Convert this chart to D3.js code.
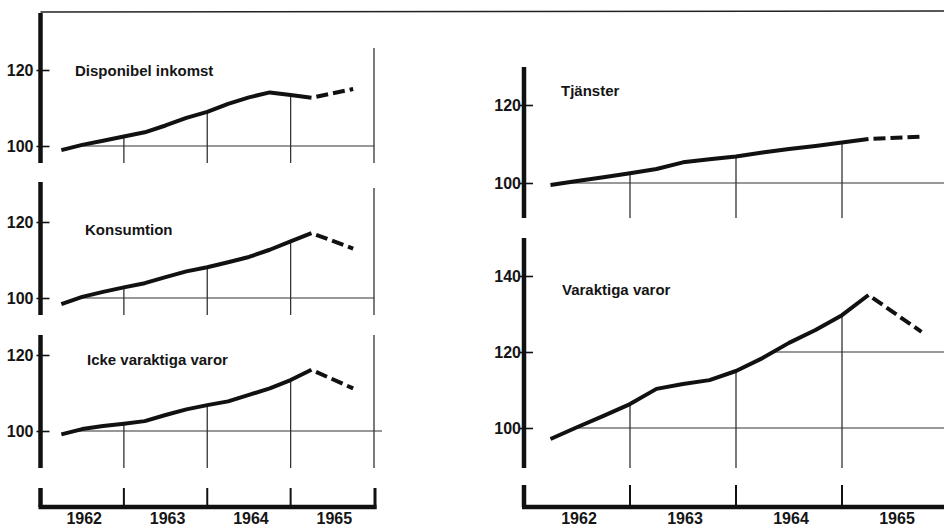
<!DOCTYPE html>
<html>
<head>
<meta charset="utf-8">
<script src="https://cdn.jsdelivr.net/npm/d3@7/dist/d3.min.js"></script>
<style>
  html, body { margin: 0; padding: 0; background: #fff; }
  svg { display: block; }
  text { font-family: "Liberation Sans", Arial, sans-serif; font-weight: bold; fill: #151515; }
</style>
</head>
<body>
<svg id="chart" width="944" height="527"></svg>
<script>
// ---------- DATA ----------
const quarters = [1962.25, 1962.5, 1962.75, 1963.0, 1963.25, 1963.5, 1963.75,
                  1964.0, 1964.25, 1964.5, 1964.75, 1965.0, 1965.25];
const forecastTime = 1965.75;
const years = [1962, 1963, 1964, 1965];
const titles = ["Disponibel inkomst", "Konsumtion", "Icke varaktiga varor", "Tjänster", "Varaktiga varor"];

const dispInkomst = [98.9, 100.3, 101.4, 102.5, 103.6, 105.4, 107.4, 109.0, 111.1, 112.8, 114.1, 113.4, 112.7];
const konsumtion  = [98.4, 100.3, 101.6, 102.8, 103.9, 105.5, 107.0, 108.1, 109.4, 110.8, 112.7, 114.9, 117.1];
const ickeVarakt  = [99.1, 100.5, 101.3, 101.9, 102.6, 104.2, 105.7, 106.8, 107.8, 109.5, 111.2, 113.4, 116.1];
const tjanster    = [99.5, 100.5, 101.5, 102.5, 103.6, 105.3, 106.1, 106.8, 107.8, 108.7, 109.5, 110.4, 111.3];
const varaktiga   = [97.1, 100.2, 103.2, 106.3, 110.3, 111.6, 112.6, 115.0, 118.4, 122.4, 125.8, 129.7, 135.0];
const forecasts   = [115.0, 113.0, 111.2, 111.9, 125.3];

const ticksSmall = [100, 120];
const ticksLarge = [100, 120, 140];
const gridSmall = [100];
const gridLarge = [100, 120];

// ---------- LAYOUT ----------
const svg = d3.select("#chart");
const xL = d3.scaleLinear().domain([1962, 1966]).range([40.5, 374]);
const xR = d3.scaleLinear().domain([1962, 1966]).range([524, 948]);

const panels = [
  { title: titles[0], values: dispInkomst, fc: forecasts[0], x: xL, y100: 146, y120: 70,  top: 13,  bottom: 163, borderTop: 48,  tx: 75,  ty: 76,  ticks: ticksSmall, grid: gridSmall, gridTo: 374, pad: 7, border: true },
  { title: titles[1], values: konsumtion,  fc: forecasts[1], x: xL, y100: 298, y120: 222, top: 182, bottom: 315, borderTop: 188, tx: 85,  ty: 235, ticks: ticksSmall, grid: gridSmall, gridTo: 374, pad: 7, border: true },
  { title: titles[2], values: ickeVarakt,  fc: forecasts[2], x: xL, y100: 431, y120: 355, top: 335, bottom: 468, borderTop: 335, tx: 87,  ty: 365, ticks: ticksSmall, grid: gridSmall, gridTo: 382, pad: 7, border: true },
  { title: titles[3], values: tjanster,    fc: forecasts[3], x: xR, y100: 183, y120: 105, top: 67,  bottom: 218, borderTop: 0,   tx: 561, ty: 96,  ticks: ticksSmall, grid: gridSmall, gridTo: 944, pad: 3, border: false },
  { title: titles[4], values: varaktiga,   fc: forecasts[4], x: xR, y100: 428, y120: 352, top: 238, bottom: 468, borderTop: 0,   tx: 562, ty: 295, ticks: ticksLarge, grid: gridLarge, gridTo: 944, pad: 3, border: false }
];

const INK = "#111";

// top frame line
svg.append("line")
  .attr("x1", xL(1962)).attr("x2", 944).attr("y1", 12).attr("y2", 11)
  .attr("stroke", "#222").attr("stroke-width", 1.5);

panels.forEach(p => {
  const x = p.x;
  const y = d3.scaleLinear().domain([100, 120]).range([p.y100, p.y120]);
  const g = svg.append("g");
  const pts = quarters.map((t, i) => [t, p.values[i]]);

  // horizontal grid levels, starting where the series reaches the level
  p.grid.forEach(level => {
    let start = quarters[0];
    for (let i = 1; i < pts.length; i++) {
      const [t0, v0] = pts[i - 1], [t1, v1] = pts[i];
      if (i === 1 && v0 >= level) { start = t0; break; }
      if (v0 < level && v1 >= level) { start = t0 + (t1 - t0) * (level - v0) / (v1 - v0); break; }
    }
    g.append("line")
      .attr("x1", x(start)).attr("x2", p.gridTo)
      .attr("y1", y(level)).attr("y2", y(level))
      .attr("stroke", "#333").attr("stroke-width", 1.2);
  });

  // drop lines at year boundaries, from bottom up to the curve
  years.slice(1).forEach(yr => {
    const i = quarters.indexOf(yr);
    g.append("line")
      .attr("x1", x(yr)).attr("x2", x(yr))
      .attr("y1", p.bottom).attr("y2", y(p.values[i]))
      .attr("stroke", "#333").attr("stroke-width", 1.3);
  });
  if (p.border) {
    g.append("line")
      .attr("x1", x(1966)).attr("x2", x(1966))
      .attr("y1", p.borderTop).attr("y2", p.bottom)
      .attr("stroke", "#333").attr("stroke-width", 1.3);
  }

  // thick vertical axis
  g.append("line")
    .attr("x1", x(1962)).attr("x2", x(1962))
    .attr("y1", p.top).attr("y2", p.bottom)
    .attr("stroke", INK).attr("stroke-width", 4.5);

  // ticks + labels via d3 axis
  const ax = d3.axisLeft(y).tickValues(p.ticks).tickSize(-9).tickPadding(p.pad).tickFormat(d3.format("d"));
  const axg = g.append("g").attr("transform", `translate(${x(1962)},0)`).call(ax);
  axg.select(".domain").remove();
  axg.selectAll(".tick line").attr("x1", -4).attr("stroke", INK).attr("stroke-width", 1.6);
  axg.selectAll(".tick text")
    .attr("font-family", "Liberation Sans, Arial, sans-serif")
    .attr("font-weight", "bold").attr("font-size", 16).attr("fill", "#151515")
    .attr("dy", "0.36em");

  // solid series line
  const line = d3.line().x(d => x(d[0])).y(d => y(d[1]));
  g.append("path").datum(pts).attr("d", line)
    .attr("fill", "none").attr("stroke", INK).attr("stroke-width", 4)
    .attr("stroke-linejoin", "round").attr("stroke-linecap", "butt");

  // dashed forecast
  const fcPts = [pts[pts.length - 1], [forecastTime, p.fc]];
  g.append("path").datum(fcPts).attr("d", line)
    .attr("fill", "none").attr("stroke", INK).attr("stroke-width", 4)
    .attr("stroke-dasharray", "12,5").attr("stroke-dashoffset", 12);

  // title
  g.append("text").attr("x", p.tx).attr("y", p.ty)
    .attr("font-size", 15).text(p.title);
});

// ---------- bottom time axes ----------
function timeAxis(x, yTop, xEnd, endTick) {
  const g = svg.append("g");
  const yb = 507;
  g.append("line").attr("x1", x(1962) - 2).attr("x2", xEnd).attr("y1", yb).attr("y2", yb)
    .attr("stroke", INK).attr("stroke-width", 4.5);
  g.append("line").attr("x1", x(1962)).attr("x2", x(1962)).attr("y1", yTop).attr("y2", yb)
    .attr("stroke", INK).attr("stroke-width", 4.5);
  years.slice(1).forEach(yr => {
    g.append("line").attr("x1", x(yr)).attr("x2", x(yr)).attr("y1", yTop).attr("y2", yb)
      .attr("stroke", INK).attr("stroke-width", 2);
  });
  if (endTick) {
    g.append("line").attr("x1", x(1966) + 1).attr("x2", x(1966) + 1).attr("y1", yTop).attr("y2", yb + 2)
      .attr("stroke", INK).attr("stroke-width", 3);
  }
  years.forEach(yr => {
    g.append("text").attr("x", x(yr + 0.5) + 2).attr("y", 524)
      .attr("text-anchor", "middle").attr("font-size", 16).text(String(yr));
  });
}
timeAxis(xL, 488, xL(1966) + 2.5, true);
timeAxis(xR, 485, 944, false);
</script>
</body>
</html>
